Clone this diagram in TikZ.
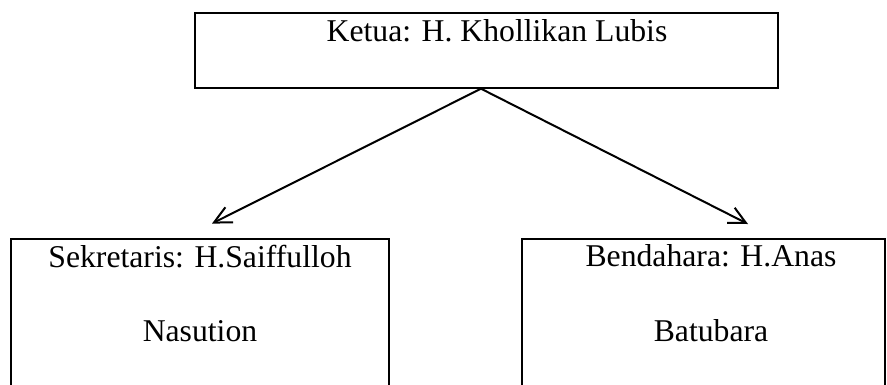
\documentclass[tikz,border=0pt]{standalone}
\usepackage{fontspec}
\setmainfont{Liberation Serif}
\usetikzlibrary{arrows.meta,calc}
\begin{document}
\begin{tikzpicture}[x=1pt,y=-1pt,
  box/.style={draw,line width=2pt,inner sep=0pt},
  lbl/.style={font=\fontsize{31.7}{38}\selectfont,inner sep=0pt,anchor=base},
  conn/.style={line width=2pt,-{Straight Barb[length=17pt,width=17pt,line width=2pt]}}]
\useasboundingbox (0,0) rectangle (887,384);
\clip (0,0) rectangle (887,384);
\node[box,minimum width=583pt,minimum height=75pt] (ketua) at (486.5,50.2) {};
\node[box,minimum width=378pt,minimum height=160pt] (sek) at (200,319.3) {};
\node[box,minimum width=363pt,minimum height=160pt] (bend) at (703.3,318.5) {};
\node[lbl] (t1) at (497,41.7) {Ketua: H. Khollikan Lubis};
\node[lbl] (t2) at (200,267) {Sekretaris: H.Saiffulloh};
\node[lbl] (t3) at (200,341.7) {Nasution};
\node[lbl] (t4) at (711,266.5) {Bendahara: H.Anas};
\node[lbl] (t5) at (711,341.5) {Batubara};
\coordinate (tipL) at (212,223.5);
\coordinate (tipR) at (748,224);
\draw[conn] ([xshift=-5.5pt]ketua.south) -- (tipL);
\draw[conn] ([xshift=-5.5pt]ketua.south) -- (tipR);
\end{tikzpicture}
\end{document}
